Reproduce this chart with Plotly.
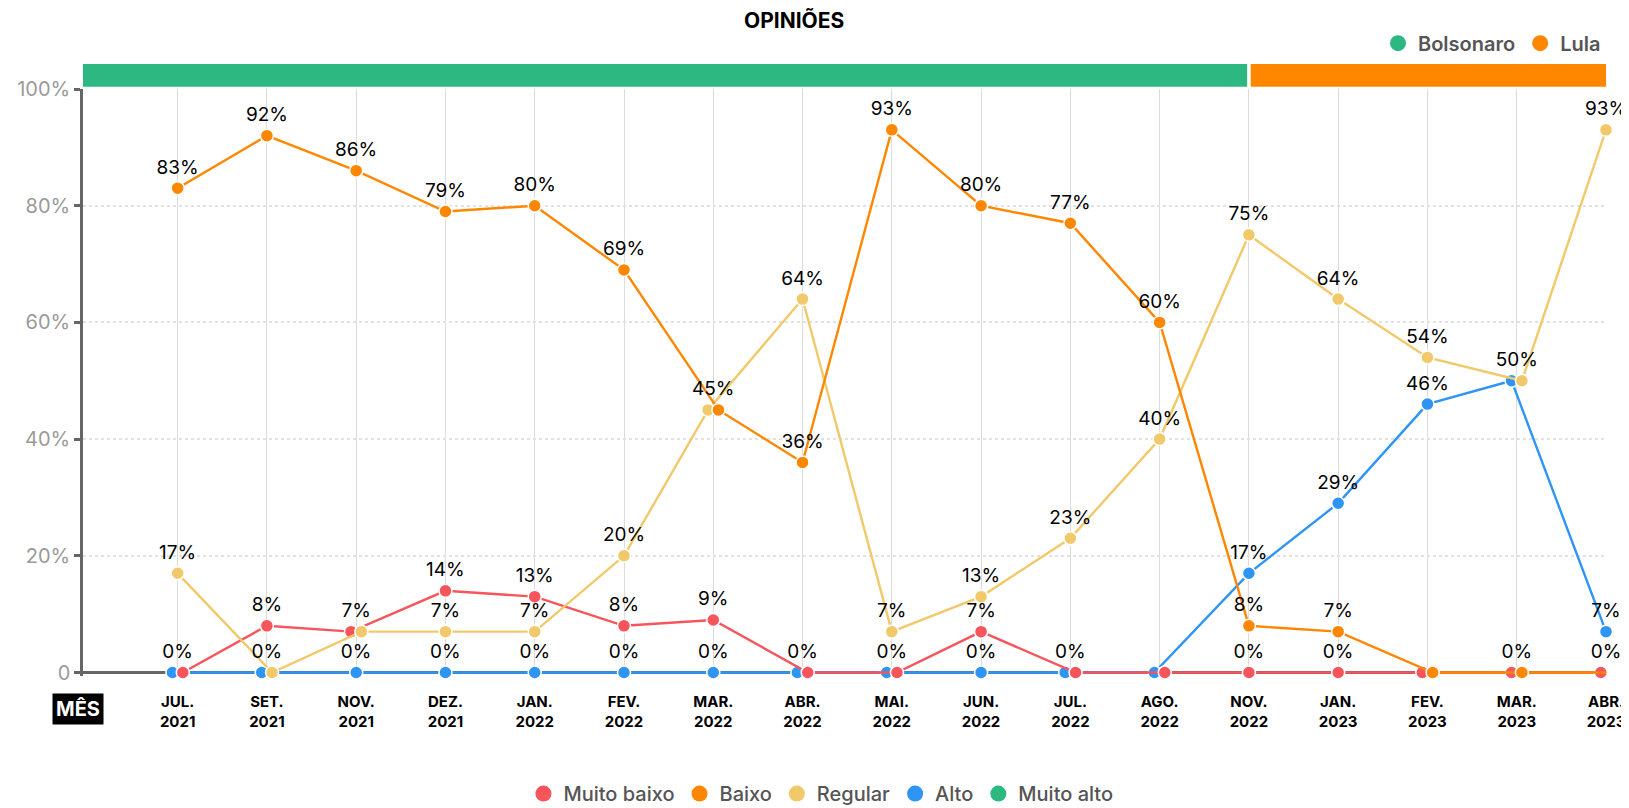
import plotly.graph_objects as go

# meses das pesquisas
meses = ["JUL.<br>2021", "SET.<br>2021", "NOV.<br>2021", "DEZ.<br>2021", "JAN.<br>2022",
         "FEV.<br>2022", "MAR.<br>2022", "ABR.<br>2022", "MAI.<br>2022", "JUN.<br>2022",
         "JUL.<br>2022", "AGO.<br>2022", "NOV.<br>2022", "JAN.<br>2023", "FEV.<br>2023",
         "MAR.<br>2023", "ABR.<br>2023"]

# opinioes (%)
muito_baixo = [0, 8, 7, 14, 13, 8, 9, 0, 0, 7, 0, 0, 0, 0, 0, 0, 0]
baixo = [83, 92, 86, 79, 80, 69, 45, 36, 93, 80, 77, 60, 8, 7, 0, 0, 0]
regular = [17, 0, 7, 7, 7, 20, 45, 64, 7, 13, 23, 40, 75, 64, 54, 50, 93]
alto = [0, 0, 0, 0, 0, 0, 0, 0, 0, 0, 0, 0, 17, 29, 46, 50, 7]
muito_alto = [None] * 17

# rotulos que nao aparecem no grafico original
rotulos_ocultos = [("AGO.<br>2022", 0), ("FEV.<br>2023", 0)]

# governos
governos = ["Bolsonaro", "Lula"]
inicio_governo = [None, "NOV.<br>2022"]

VERMELHO = "#F7545C"
LARANJA = "#FF8700"
AMARELO = "#F1C96A"
AZUL = "#2E95F5"
VERDE = "#2DB882"
FONTE = "Inter"

cores_governo = {"Bolsonaro": VERDE, "Lula": LARANJA}

# ordem de desenho (de baixo para cima)
series = [
    ("Alto", alto, AZUL),
    ("Muito baixo", muito_baixo, VERMELHO),
    ("Regular", regular, AMARELO),
    ("Baixo", baixo, LARANJA),
    ("Muito alto", muito_alto, VERDE),
]
ordem_legenda = ["Muito baixo", "Baixo", "Regular", "Alto", "Muito alto"]

n = len(meses)
x_min, x_max = -1.06, n - 1

# afasta um pouco os pontos que ficam no mesmo lugar
desloc = {nome: [0.0] * n for nome, _, _ in series}
for i in range(n):
    grupos = {}
    for nome, vals, _ in series:
        if vals[i] is None:
            continue
        grupos.setdefault(vals[i], []).append(nome)
    for v, nomes in grupos.items():
        k = len(nomes)
        for j, nome in enumerate(nomes):
            desloc[nome][i] = (j - (k - 1) / 2) * 0.116

fig = go.Figure()

for nome, vals, cor in series:
    fig.add_trace(go.Scatter(
        x=[i + desloc[nome][i] for i in range(n)],
        y=vals,
        mode="lines+markers",
        name=nome,
        line=dict(color=cor, width=2.4),
        marker=dict(color=cor, size=13, line=dict(color="white", width=1.5)),
        cliponaxis=False,
        showlegend=False,
        hovertemplate="%{y}%<extra>" + nome + "</extra>",
    ))

# rotulos (um por valor em cada mes)
rx, ry, rt = [], [], []
for i in range(n):
    vistos = []
    for nome, vals, _ in series:
        v = vals[i]
        if v is None or v in vistos or (meses[i], v) in rotulos_ocultos:
            continue
        vistos.append(v)
        rx.append(i)
        ry.append(v)
        rt.append(f"{v}%")

fig.add_trace(go.Scatter(
    x=rx, y=ry, text=rt,
    mode="markers+text",
    marker=dict(size=14, opacity=0),
    textposition="top center",
    textfont=dict(family=FONTE, size=19, color="black"),
    cliponaxis=False,
    showlegend=False,
    hoverinfo="skip",
))

# legenda das opinioes
cores = {nome: cor for nome, _, cor in series}
for nome in ordem_legenda:
    fig.add_trace(go.Scatter(
        x=[None], y=[None], mode="markers", name=nome,
        marker=dict(color=cores[nome], size=16),
    ))

# faixa dos governos
for g in governos:
    fig.add_trace(go.Scatter(
        x=[None], y=[None], mode="markers", name=g,
        marker=dict(color=cores_governo[g], size=16),
        legend="legend2",
    ))

limites = [x_min if ini is None else meses.index(ini) for ini in inicio_governo] + [x_max]
for k, g in enumerate(governos):
    x0 = limites[k] + (0 if k == 0 else 0.02)
    x1 = limites[k + 1] - (0.02 if k + 1 < len(governos) else 0)
    fig.add_shape(type="rect", xref="x", yref="paper",
                  x0=x0, x1=x1, y0=1.0037, y1=1.0428,
                  fillcolor=cores_governo[g], line_width=0, layer="above")

fig.add_annotation(
    text="<b>MÊS</b>", xref="paper", yref="paper", x=-0.003, y=-0.057,
    xanchor="center", yanchor="middle", showarrow=False,
    font=dict(family=FONTE, size=20, color="white"),
    bgcolor="black", borderpad=3,
)

fig.update_layout(
    width=1621, height=800,
    paper_bgcolor="white", plot_bgcolor="white",
    margin=dict(l=75, r=23, t=81, b=132),
    font=dict(family=FONTE),
    title=dict(text="<b>OPINIÕES</b>", x=0.485, xref="container", xanchor="center",
               y=0.984, yref="container", yanchor="middle",
               font=dict(family=FONTE, size=21, color="black")),
    legend=dict(orientation="h", xref="container", yref="container",
                x=0.5015, xanchor="center", y=0.018, yanchor="middle",
                font=dict(family=FONTE, size=20, color="#555", weight=500),
                itemwidth=30, traceorder="normal"),
    legend2=dict(orientation="h", xref="paper", yref="paper",
                 x=1.0, xanchor="right", y=1.078, yanchor="middle",
                 font=dict(family=FONTE, size=20, color="#555", weight=600),
                 itemwidth=30),
    xaxis=dict(
        range=[x_min, x_max],
        tickmode="array", tickvals=list(range(n)), ticktext=meses,
        tickfont=dict(family=FONTE, size=15, color="black", weight="bold"),
        showgrid=True, gridcolor="#dcdcdc", gridwidth=1.2,
        showline=False, zeroline=False, ticks="", ticklabelstandoff=15,
        automargin=False,
    ),
    yaxis=dict(
        range=[-0.6, 100],
        tickmode="array", tickvals=[0, 20, 40, 60, 80, 100],
        ticktext=["0", "20%", "40%", "60%", "80%", "100%"],
        tickfont=dict(family=FONTE, size=20, color="#9a9a9a"),
        showgrid=True, gridcolor="#e2e2e2", gridwidth=1.5, griddash="dot",
        showline=True, linecolor="#666", linewidth=2.5,
        ticks="outside", ticklen=6, tickwidth=2.5, tickcolor="#666",
        zeroline=True, zerolinecolor="#666", zerolinewidth=2.5,
        automargin=False,
    ),
)

fig.write_html("out.html")
